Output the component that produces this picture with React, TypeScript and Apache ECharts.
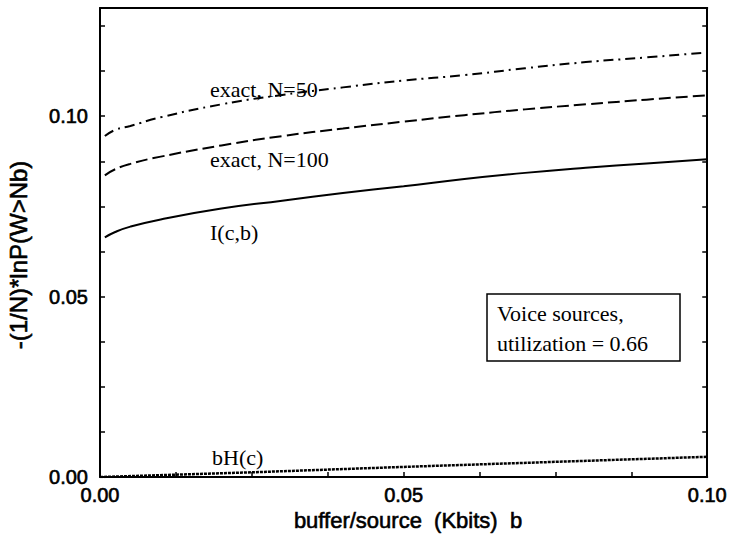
import React, { useEffect, useRef } from "react";
import * as echarts from "echarts";

const bValues = [0.0008, 0.0025, 0.005, 0.01, 0.02, 0.03, 0.04, 0.05, 0.06, 0.07, 0.08, 0.09, 0.1];
const exactN50 = [0.0945, 0.0962, 0.0973, 0.0997, 0.1033, 0.1059, 0.108, 0.1099, 0.1114, 0.1133, 0.115, 0.1163, 0.1177];
const exactN100 = [0.0836, 0.0853, 0.0868, 0.0888, 0.0919, 0.0945, 0.0966, 0.0985, 0.1003, 0.1019, 0.1033, 0.1046, 0.1058];
const iCB = [0.0664, 0.0679, 0.0694, 0.0714, 0.0744, 0.0766, 0.0787, 0.0806, 0.0826, 0.0843, 0.0857, 0.0869, 0.0881];
const bHx = [0, 0.025, 0.05, 0.075, 0.1];
const bH = [0, 0.0013, 0.0028, 0.0042, 0.0056];

const xTicks = [0, 0.05, 0.1];
const yTicks = [0, 0.05, 0.1];

const seriesLabels = [
  { text: "exact, N=50", x: 210, y: 89 },
  { text: "exact, N=100", x: 210, y: 159 },
  { text: "I(c,b)", x: 210, y: 232 },
  { text: "bH(c)", x: 212, y: 457 },
];

const boxLines = ["Voice sources,", "utilization = 0.66"];

const SANS = "'Liberation Sans', Arial, sans-serif";
const SERIF = "'Liberation Serif', 'Times New Roman', serif";

function isMajor(v: number, list: number[]) {
  return list.some((t) => Math.abs(t - v) < 1e-9);
}

export default function App() {
  const ref = useRef<HTMLDivElement>(null);
  useEffect(() => {
    if (!ref.current) return;
    const chart = echarts.init(ref.current, undefined, { renderer: "svg" });
    const pair = (xs: number[], ys: number[]) => xs.map((x, i) => [x, ys[i]]);
    const axisLine = { show: true, onZero: false, lineStyle: { color: "#000", width: 2 } };
    const tick = { show: true, inside: true, length: 5, lineStyle: { color: "#000", width: 1.5 } };
    const tickFont = {
      color: "#000",
      fontSize: 20,
      fontFamily: SANS,
      textBorderColor: "#000",
      textBorderWidth: 0.6,
    };
    chart.setOption({
      animation: false,
      backgroundColor: "#fff",
      grid: { left: 100, right: 22, top: 8, bottom: 58, containLabel: false },
      xAxis: [
        {
          type: "value",
          min: 0,
          max: 0.1,
          interval: 0.0125,
          position: "bottom",
          axisLine,
          splitLine: { show: false },
          axisTick: tick,
          axisLabel: {
            ...tickFont,
            margin: 8,
            showMaxLabel: true,
            formatter: (v: number) => (isMajor(v, xTicks) ? v.toFixed(2) : ""),
          },
        },
        {
          type: "value",
          min: 0,
          max: 0.1,
          interval: 0.0125,
          position: "top",
          axisLine,
          splitLine: { show: false },
          axisTick: { show: false },
          axisLabel: { show: false },
        },
      ],
      yAxis: [
        {
          type: "value",
          min: 0,
          max: 0.13,
          interval: 0.0125,
          position: "left",
          axisLine,
          splitLine: { show: false },
          axisTick: tick,
          axisLabel: {
            ...tickFont,
            margin: 12,
            showMaxLabel: false,
            formatter: (v: number) => (isMajor(v, yTicks) ? v.toFixed(2) : ""),
          },
        },
        {
          type: "value",
          min: 0,
          max: 0.13,
          interval: 0.0125,
          position: "right",
          axisLine,
          splitLine: { show: false },
          axisTick: tick,
          axisLabel: { show: false },
        },
      ],
      series: [
        {
          type: "line",
          data: pair(bValues, exactN50),
          smooth: true,
          showSymbol: false,
          lineStyle: { color: "#000", width: 2, type: [10, 5, 2, 5] },
        },
        {
          type: "line",
          data: pair(bValues, exactN100),
          smooth: true,
          showSymbol: false,
          lineStyle: { color: "#000", width: 2, type: [12, 5] },
        },
        {
          type: "line",
          data: pair(bValues, iCB),
          smooth: true,
          showSymbol: false,
          lineStyle: { color: "#000", width: 2 },
        },
        {
          type: "line",
          data: pair(bHx, bH),
          smooth: false,
          showSymbol: false,
          lineStyle: { color: "#000", width: 2.5, type: [3, 1] },
        },
      ],
      graphic: [
        ...seriesLabels.map((l) => ({
          type: "text",
          x: l.x,
          y: l.y,
          z: 10,
          style: {
            text: l.text,
            fontSize: 22,
            fontFamily: SERIF,
            fill: "#000",
            textVerticalAlign: "middle",
          },
        })),
        {
          type: "rect",
          shape: { x: 487, y: 294, width: 193, height: 67 },
          z: 10,
          style: { fill: "#fff", stroke: "#000", lineWidth: 1.5 },
        },
        ...boxLines.map((t, i) => ({
          type: "text",
          x: 497,
          y: 313 + i * 30,
          z: 11,
          style: {
            text: t,
            fontSize: 22,
            fontFamily: SERIF,
            fill: "#000",
            textVerticalAlign: "middle",
          },
        })),
        {
          type: "text",
          x: 18,
          y: 255,
          rotation: Math.PI / 2,
          style: {
            text: "-(1/N)*lnP(W>Nb)",
            fontSize: 24,
            fontFamily: SANS,
            fill: "#000",
            stroke: "#000",
            lineWidth: 0.6,
            textAlign: "center",
            textVerticalAlign: "middle",
          },
        },
        {
          type: "text",
          x: 408,
          y: 520,
          style: {
            text: "buffer/source\u00a0\u00a0(Kbits)\u00a0\u00a0b",
            fontSize: 22,
            fontFamily: SANS,
            fill: "#000",
            stroke: "#000",
            lineWidth: 0.6,
            textAlign: "center",
            textVerticalAlign: "middle",
          },
        },
      ],
    });
    return () => chart.dispose();
  }, []);
  return (
    <div
      ref={ref}
      style={{ position: "absolute", left: 0, top: 0, width: 730, height: 535 }}
    />
  );
}
